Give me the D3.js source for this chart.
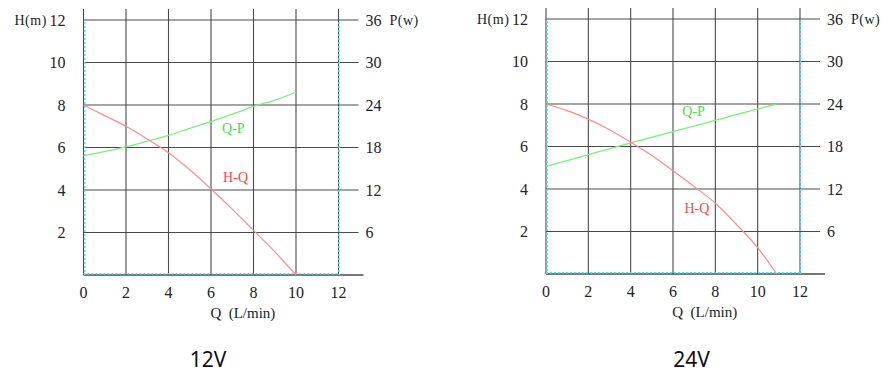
<!DOCTYPE html>
<html>
<head>
<meta charset="utf-8">
<script src="https://cdn.jsdelivr.net/npm/d3@7"></script>
<style>
  html, body { margin: 0; padding: 0; background: #fff; }
  svg { display: block; }
  .num { font-family: "Liberation Serif", "DejaVu Serif", serif; font-size: 16px; fill: #222; }
  .unit { font-family: "Liberation Serif", "DejaVu Serif", serif; font-size: 14px; fill: #222; }
  .title { font-family: "Noto Sans", "Open Sans", sans-serif; font-size: 21px; fill: #111; }
  .lbl { font-family: "Liberation Serif", "DejaVu Serif", serif; font-size: 14px; }
</style>
</head>
<body>
<svg id="chart" width="892" height="380"></svg>
<script>
// ---- data ----
const qTicks = [0, 2, 4, 6, 8, 10, 12];
const hTicks = [2, 4, 6, 8, 10, 12];
const pTicks = [6, 12, 18, 24, 30, 36];
const panelTitles = ["12V", "24V"];

// 12V
const hq12Q = [0, 1, 2, 3, 4, 5, 6, 7, 8, 9, 10];
const hq12H = [8, 7.5, 7.0, 6.4, 5.75, 4.95, 4.05, 3.1, 2.1, 1.1, 0];
const qp12Q = [0, 2, 3, 4, 5, 6, 7, 8, 9, 10];
const qp12P = [16.85, 18.1, 18.9, 19.7, 20.7, 21.65, 22.7, 23.8, 24.7, 25.8];

// 24V
const hq24Q = [0, 1, 2, 3, 4, 5, 6, 7, 8, 9, 10, 10.9];
const hq24H = [8, 7.69, 7.29, 6.79, 6.2, 5.58, 4.86, 4.12, 3.33, 2.33, 1.24, 0];
const qp24Q = [0, 2, 4, 6, 8, 10, 10.9];
const qp24P = [15.2, 16.85, 18.5, 20.1, 21.7, 23.3, 24.0];

const svg = d3.select("#chart");

function drawPanel(cfg) {
  const g = svg.append("g");
  const x = d3.scaleLinear().domain([0, 12]).range([cfg.x0, cfg.x1]);
  const y = d3.scaleLinear().domain([0, 12]).range([cfg.y0, cfg.y1]);
  const yp = d3.scaleLinear().domain([0, 36]).range([cfg.y0, cfg.y1]);
  const grid = "#4a4a4a";

  // horizontal gridlines
  g.selectAll("line.h").data(hTicks).enter().append("line")
    .attr("x1", x(0)).attr("x2", x(12) + 20)
    .attr("y1", d => y(d)).attr("y2", d => y(d))
    .attr("stroke", grid).attr("stroke-width", 1.1);
  // vertical gridlines
  g.selectAll("line.v").data(qTicks).enter().append("line")
    .attr("x1", d => x(d)).attr("x2", d => x(d))
    .attr("y1", y(0)).attr("y2", y(12) - 11)
    .attr("stroke", grid).attr("stroke-width", 1.1);
  // bottom axis
  g.append("line").attr("x1", x(0)).attr("x2", x(12) + 25)
    .attr("y1", y(0)).attr("y2", y(0))
    .attr("stroke", grid).attr("stroke-width", 1.3);

  // cyan dotted frame
  const cy = "#40eaf5";
  [[x(0) + 1.2, y(12) + 2, x(0) + 1.2, y(0)],
   [x(12) + 0.5, y(12) + 2, x(12) + 0.5, y(0)],
   [x(0), y(0) - 1.2, x(12), y(0) - 1.2]].forEach(s => {
    g.append("line").attr("x1", s[0]).attr("y1", s[1]).attr("x2", s[2]).attr("y2", s[3])
      .attr("stroke", cy).attr("stroke-width", 1.6).attr("stroke-dasharray", "2,2");
  });

  // left tick labels
  g.selectAll("text.hl").data(hTicks).enter().append("text")
    .attr("class", "num").attr("x", x(0) - 18).attr("y", d => y(d))
    .attr("dy", "0.35em").attr("text-anchor", "end").text(d => d);
  // right tick labels
  g.selectAll("text.pl").data(pTicks).enter().append("text")
    .attr("class", "num").attr("x", x(12) + 27).attr("y", d => yp(d))
    .attr("dy", "0.35em").attr("text-anchor", "start").text(d => d);
  // bottom tick labels
  g.selectAll("text.ql").data(qTicks).enter().append("text")
    .attr("class", "num").attr("x", d => x(d)).attr("y", y(0) + 17)
    .attr("dy", "0.35em").attr("text-anchor", "middle").text(d => d);

  // axis unit labels
  g.append("text").attr("class", "unit").attr("x", x(0) - 69).attr("y", y(12))
    .attr("dy", "0.35em").attr("letter-spacing", "0.5px").text("H(m)");
  g.append("text").attr("class", "unit").attr("x", x(12) + 51).attr("y", yp(36))
    .attr("dy", "0.35em").attr("letter-spacing", "0.5px").text("P(w)");
  g.append("text").attr("class", "unit").attr("x", x(7.5)).attr("y", y(0) + 38)
    .attr("dy", "0.35em").attr("text-anchor", "middle")
    .attr("style", "font-size:15px; white-space:pre").text("Q  (L/min)");

  // curves
  const lineH = d3.line().x(d => x(d[0])).y(d => y(d[1])).curve(d3.curveMonotoneX);
  const lineP = d3.line().x(d => x(d[0])).y(d => yp(d[1])).curve(d3.curveMonotoneX);
  g.append("path").attr("d", lineP(d3.zip(cfg.qpQ, cfg.qpP)))
    .attr("fill", "none").attr("stroke", "#7aee7a").attr("stroke-width", 1.3);
  g.append("path").attr("d", lineH(d3.zip(cfg.hqQ, cfg.hqH)))
    .attr("fill", "none").attr("stroke", "#ff8a8a").attr("stroke-width", 1.2);

  // curve labels
  g.append("text").attr("class", "lbl").attr("fill", "#44dd44")
    .attr("x", x(cfg.qpLabel[0])).attr("y", y(cfg.qpLabel[1])).attr("dy", "0.35em").text("Q-P");
  g.append("text").attr("class", "lbl").attr("fill", "#ff4444")
    .attr("x", x(cfg.hqLabel[0])).attr("y", y(cfg.hqLabel[1])).attr("dy", "0.35em").text("H-Q");

  // title
  svg.append("text").attr("class", "title").attr("x", cfg.titleX).attr("y", 360)
    .attr("dy", "0.35em").attr("text-anchor", "middle").text(cfg.title);
}

drawPanel({ x0: 83.5, x1: 338.5, y0: 275, y1: 20,
  hqQ: hq12Q, hqH: hq12H, qpQ: qp12Q, qpP: qp12P,
  qpLabel: [6.52, 6.92], hqLabel: [6.57, 4.6],
  title: panelTitles[0], titleX: 208 });

drawPanel({ x0: 546, x1: 800, y0: 274, y1: 19,
  hqQ: hq24Q, hqH: hq24H, qpQ: qp24Q, qpP: qp24P,
  qpLabel: [6.44, 7.65], hqLabel: [6.54, 3.12],
  title: panelTitles[1], titleX: 691.5 });
</script>
</body>
</html>
